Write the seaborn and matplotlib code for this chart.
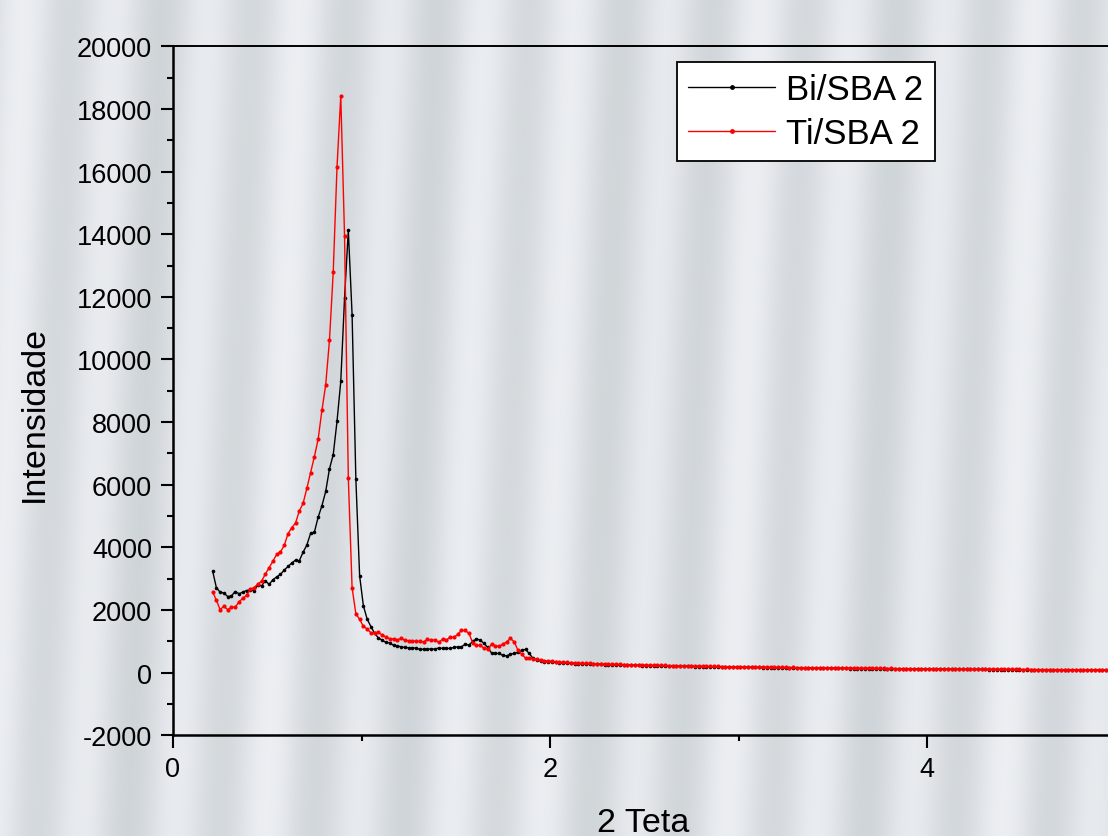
# SAXS pattern Bi/SBA 2 vs Ti/SBA 2, Origin-like look
import numpy as np
import matplotlib
matplotlib.use("Agg")
import matplotlib.pyplot as plt
import seaborn as sns

# 2 theta grid: 0.21 .. 5.01 in steps of 0.02
two_theta = np.round(0.21 + 0.02 * np.arange(241), 2)

bi_main = [3252, 2716, 2569, 2543, 2431, 2453, 2591, 2521, 2569, 2623,
           2636, 2623, 2796, 2773, 2933, 2818, 2968, 3058, 3137, 3275,
           3390, 3502, 3594, 3572, 3847, 4073, 4450, 4485, 4965, 5329,
           5786, 6505, 6962, 8022, 9300, 11958, 14124, 11434, 6185, 3090,
           2134, 1710, 1470, 1252, 1107, 1038, 965, 952, 869, 856,
           824, 805, 792, 792, 783, 741, 751, 751, 760, 751,
           792, 773, 773, 773, 805, 824, 824, 910, 879, 1000,
           1080, 1038, 932, 805, 623, 613, 613, 549, 536, 591,
           613, 645, 719, 741, 613, 453]
bi_tail = [400, 372, 356, 345, 334, 326, 318, 309, 305, 296,
           292, 287, 281, 279, 272, 270, 264, 262, 257, 255,
           250, 248, 244, 242, 238, 236, 232, 231, 227, 225,
           222, 220, 217, 216, 212, 211, 208, 207, 203, 202,
           199, 198, 195, 194, 191, 190, 187, 186, 183, 182,
           180, 178, 176, 175, 173, 171, 170, 168, 166, 165,
           163, 162, 160, 159, 157, 156, 154, 153, 151, 150,
           149, 147, 146, 145, 143, 142, 141, 139, 138, 137,
           136, 135, 133, 132, 131, 130, 129, 128, 127, 126,
           125, 124, 123, 122, 121, 120, 119, 118, 118, 117,
           116, 115, 114, 113, 113, 112, 111, 110, 110, 109,
           108, 107, 107, 106, 105, 104, 104, 103, 102, 102,
           101, 100, 100, 99, 98, 98, 97, 96, 96, 95,
           95, 94, 93, 93, 92, 92, 91, 90, 90, 89,
           89, 88, 88, 87, 87, 86, 86, 85, 85, 84,
           84, 83, 83, 82, 82]

ti_main = [2581, 2316, 2010, 2124, 2010, 2089, 2089, 2262, 2373, 2466,
           2670, 2715, 2829, 2922, 3148, 3352, 3560, 3777, 3856, 4061,
           4437, 4628, 4778, 5164, 5404, 5882, 6383, 6896, 7455, 8376,
           9187, 10609, 12797, 16137, 18415, 13949, 6223, 2715, 1880, 1700,
           1480, 1395, 1272, 1252, 1284, 1198, 1144, 1080, 1080, 1048,
           1093, 1038, 1016, 1016, 997, 997, 984, 1061, 1029, 1048,
           965, 1070, 1038, 1134, 1125, 1220, 1348, 1348, 1252, 952,
           869, 879, 773, 741, 910, 847, 837, 910, 984, 1093,
           984, 719, 591, 463, 453, 441]
ti_tail = [421, 400, 385, 371, 362, 349, 342, 331, 327, 316,
           314, 303, 301, 296, 293, 285, 284, 278, 277, 269,
           270, 263, 263, 257, 258, 250, 251, 245, 246, 239,
           240, 234, 235, 229, 230, 224, 225, 219, 220, 214,
           216, 210, 211, 205, 207, 201, 202, 197, 198, 193,
           194, 189, 191, 186, 187, 182, 184, 179, 181, 175,
           177, 172, 174, 169, 171, 166, 168, 163, 165, 160,
           162, 158, 159, 155, 157, 152, 154, 150, 152, 147,
           149, 145, 147, 143, 144, 140, 142, 138, 140, 136,
           138, 134, 136, 132, 133, 130, 131, 128, 130, 126,
           128, 124, 126, 122, 124, 121, 122, 119, 121, 117,
           119, 116, 117, 114, 116, 112, 114, 111, 112, 109,
           111, 108, 109, 106, 108, 104, 106, 103, 104, 101,
           103, 100, 101, 98, 100, 97, 98, 95, 97, 94,
           96, 93, 94, 91, 93, 90, 92, 89, 90, 88,
           89, 87, 88, 86, 87]

bi_sba = np.array(bi_main + bi_tail)
ti_sba = np.array(ti_main + ti_tail)

y_ticks = list(range(-2000, 20001, 2000))
x_ticks = [0, 2, 4]

sns.set_style("ticks", {'axes.edgecolor': 'black', 'text.color': 'black',
                        'axes.labelcolor': 'black', 'xtick.color': 'black',
                        'ytick.color': 'black'})
plt.rcParams['font.family'] = ['Liberation Sans', 'DejaVu Sans']

W, H = 1108, 837
fig = plt.figure(figsize=(W / 100, H / 100), dpi=100)

# striped grey backdrop (soft vertical bands, slightly slanted)
xx, yy = np.meshgrid(np.arange(W), np.arange(H))
ph = (xx + 0.04 * yy) * 2 * np.pi / 92.0
v = 0.5 + 0.4 * np.sin(ph) + 0.1 * np.sin(0.37 * ph + 0.6)
v = (v - v.min()) / (v.max() - v.min())
dark = np.array([0.815, 0.835, 0.85])
light = np.array([0.925, 0.935, 0.95])
bg = dark + (light - dark) * v[..., None]
fig.figimage(bg, xo=0, yo=0, zorder=-10)

ax = fig.add_axes([173 / W, 1 - 736.3 / H, 1 - 173 / W, (736.3 - 47.3) / H])
ax.set_facecolor('none')

sns.lineplot(x=two_theta, y=bi_sba, ax=ax, color='black', linewidth=1.0,
             marker='o', markersize=2.6, markeredgewidth=0, label='Bi/SBA 2')
sns.lineplot(x=two_theta, y=ti_sba, ax=ax, color='red', linewidth=1.0,
             marker='o', markersize=3.0, markeredgewidth=0, label='Ti/SBA 2')

ax.set_xlim(0, 4.96)
ax.set_ylim(-2000, 20000)
ax.set_xticks(x_ticks)
ax.set_xticks([1, 3], minor=True)
ax.set_yticks(y_ticks)
ax.set_yticks(list(range(-1000, 20000, 2000)), minor=True)
ax.set_yticklabels([str(t) for t in y_ticks])
ax.set_xticklabels([str(t) for t in x_ticks])

for s in ['left', 'bottom']:
    ax.spines[s].set_linewidth(1.8)
ax.spines['top'].set_linewidth(1.4)
ax.spines['right'].set_visible(False)

ax.tick_params(axis='both', which='major', direction='out', length=9, width=1.5,
               labelsize=19.5, pad=6, colors='black')
ax.tick_params(axis='both', which='minor', direction='out', length=4.5, width=1.5,
               colors='black')
ax.tick_params(axis='x', which='both', top=False)

ax.set_ylabel('Intensidade', fontsize=24.5, color='black')
ax.yaxis.set_label_coords(-0.1316, 0.468)
ax.set_xlabel('2 Teta', fontsize=24.5, color='black')
ax.xaxis.set_label_coords(0.503, -0.104)

leg = ax.legend(loc='upper left', bbox_to_anchor=((677 - 173) / 935, (736.3 - 63) / 689),
                fontsize=25, frameon=True, fancybox=False, edgecolor='black',
                framealpha=1, numpoints=1, handlelength=2.5, handletextpad=0.32,
                borderpad=0.33, labelspacing=0.3, borderaxespad=0)
leg.get_frame().set_linewidth(1.3)
for h in leg.legend_handles:
    h.set_markersize(3.5)
for t in leg.get_texts():
    t.set_color('black')

fig.savefig('out.png', dpi=100)
